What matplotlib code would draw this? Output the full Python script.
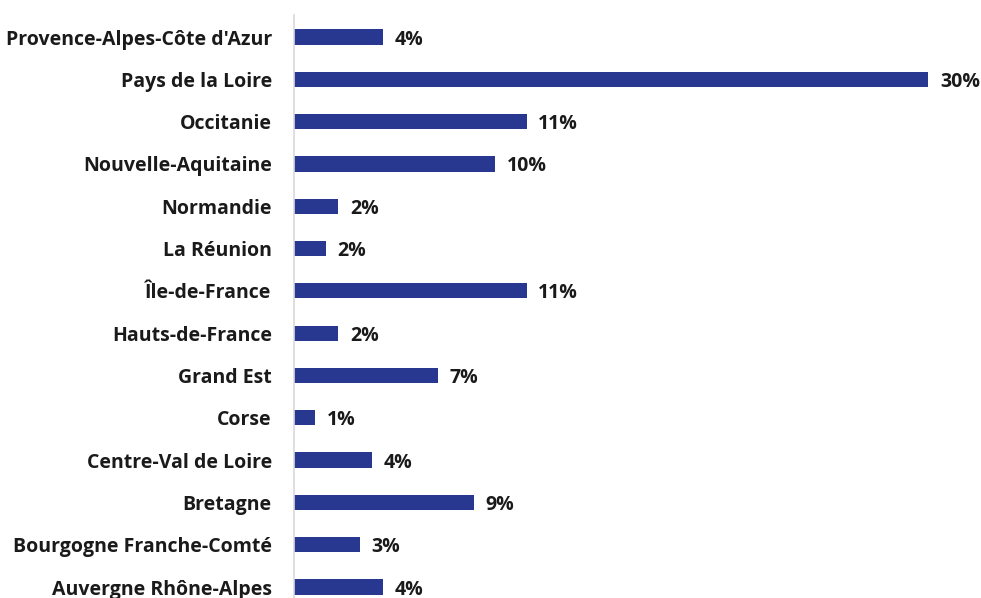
import numpy as np
import matplotlib.pyplot as plt

regions = ["Provence-Alpes-Côte d'Azur", "Pays de la Loire", "Occitanie",
           "Nouvelle-Aquitaine", "Normandie", "La Réunion", "Île-de-France",
           "Hauts-de-France", "Grand Est", "Corse", "Centre-Val de Loire",
           "Bretagne", "Bourgogne Franche-Comté", "Auvergne Rhône-Alpes"]
shares = [4.2, 30.0, 11.0, 9.5, 2.1, 1.5, 11.0, 2.1, 6.8, 1.0, 3.7, 8.5001, 3.1, 4.2]

plt.rcParams['font.family'] = ['Open Sans', 'DejaVu Sans']

fig = plt.figure(figsize=(9.81, 5.98), dpi=100)
ax = fig.add_axes([294 / 981, 0, 666 / 981, 583 / 598])

y = np.arange(len(regions))
ax.barh(y, shares, height=0.36, color='#283891')
for yi, v in zip(y, shares):
    ax.text(v + 0.55, yi, f"{v:.0f}%", va='center_baseline', ha='left',
            fontsize=14, fontweight='bold', color='#1a1a1a')

ax.set_ylim(13.26, -0.52)
ax.set_xlim(0, 31.5)
ax.set_yticks(y)
ax.set_yticklabels(regions, fontsize=14, fontweight='bold', color='#1a1a1a')
ax.tick_params(axis='y', length=0, pad=16)
ax.set_xticks([])
for s in ['top', 'right', 'bottom']:
    ax.spines[s].set_visible(False)
ax.spines['left'].set_color('#d9d9d9')
ax.spines['left'].set_linewidth(1.2)

fig.savefig('out.png', dpi=100)
